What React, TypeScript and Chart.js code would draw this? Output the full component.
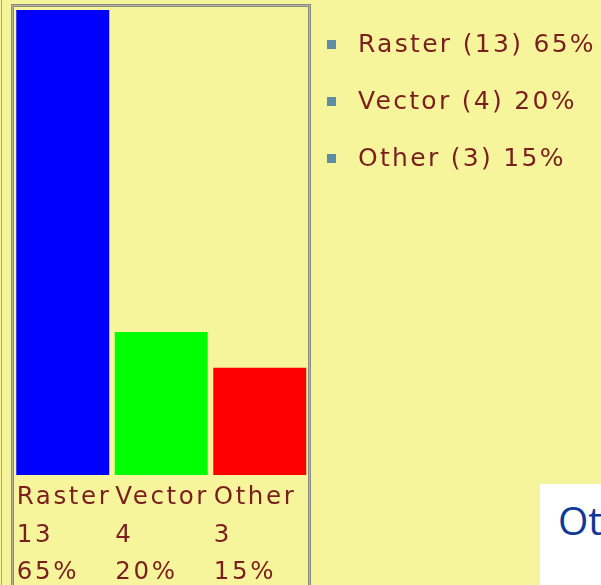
import React, { useEffect, useRef } from "react";
import { Chart, registerables } from "chart.js";

Chart.register(...registerables);

const categories = ["Raster", "Vector", "Other"];
const counts = [13, 4, 3];
const percents = [65, 20, 15];
const barColors = ["#0000ff", "#00ff00", "#ff0000"];
const cornerText = "Other";

const BG = "#f6f59b";
const TEXT = "#7a1e1e";

const spacingPlugin = {
  id: "letterSpacing",
  beforeDraw(chart: any) {
    (chart.ctx as any).letterSpacing = "2.6px";
  },
};

export default function App() {
  const ref = useRef<HTMLCanvasElement | null>(null);

  useEffect(() => {
    if (!ref.current) return;
    const chart = new Chart(ref.current, {
      type: "bar",
      data: {
        labels: categories.map((c, i) => [c, String(counts[i]), percents[i] + "%"]),
        datasets: [
          {
            data: counts,
            backgroundColor: barColors,
            borderWidth: 0,
            barPercentage: 0.944,
            categoryPercentage: 1,
          },
        ],
      },
      options: {
        animation: false,
        responsive: false,
        devicePixelRatio: 1,
        layout: { padding: { left: 13.5, right: 292, top: 10, bottom: 0 } },
        plugins: { legend: { display: false }, tooltip: { enabled: false } },
        scales: {
          y: { display: false, min: 0, max: 13 },
          x: {
            grid: { display: false, drawTicks: false },
            border: { display: false },
            afterFit: (s: any) => {
              s.height = 110;
            },
            ticks: {
              color: TEXT,
              align: "start",
              labelOffset: -46,
              padding: 4,
              maxRotation: 0,
              autoSkip: false,
              font: { family: "DejaVu Sans", size: 24.5, lineHeight: 1.53 },
            },
          },
        },
      },
      plugins: [spacingPlugin],
    });
    return () => chart.destroy();
  }, []);

  return (
    <div
      style={{
        position: "fixed",
        left: 0,
        top: 0,
        width: 601,
        height: 585,
        background: BG,
        overflow: "hidden",
      }}
    >
      <canvas
        ref={ref}
        width={601}
        height={585}
        style={{ position: "absolute", left: 0, top: 0, width: 601, height: 585 }}
      />
      <div
        style={{
          position: "absolute",
          left: 1,
          top: 0,
          width: 1,
          height: 585,
          background: "#a4a490",
        }}
      />
      <div
        style={{
          position: "absolute",
          left: 11,
          top: 4,
          width: 300,
          height: 700,
          boxSizing: "border-box",
          border: "1px solid #8c8c82",
          boxShadow: "inset 0 0 0 1px #b2b2a0, inset 0 0 0 2px #8c8c82",
          pointerEvents: "none",
        }}
      />
      <div
        style={{
          position: "absolute",
          left: 327,
          top: 15,
          fontFamily: "DejaVu Sans",
          fontSize: 25,
          lineHeight: "57px",
          letterSpacing: "2.3px",
          color: TEXT,
          whiteSpace: "nowrap",
        }}
      >
        {categories.map((c, i) => (
          <div key={c}>
            <span
              style={{
                display: "inline-block",
                width: 9,
                height: 9,
                background: "#5d8ca6",
                marginRight: 22,
                verticalAlign: 3,
              }}
            />
            {`${c} (${counts[i]}) ${percents[i]}%`}
          </div>
        ))}
      </div>
      <div
        style={{
          position: "absolute",
          left: 540,
          top: 484,
          width: 200,
          height: 200,
          background: "#ffffff",
        }}
      >
        <div
          style={{
            position: "absolute",
            left: 18,
            top: 11,
            fontFamily: "Open Sans",
            fontSize: 39,
            lineHeight: "50px",
            color: "#0b3a9b",
            whiteSpace: "nowrap",
          }}
        >
          {cornerText}
        </div>
      </div>
    </div>
  );
}
